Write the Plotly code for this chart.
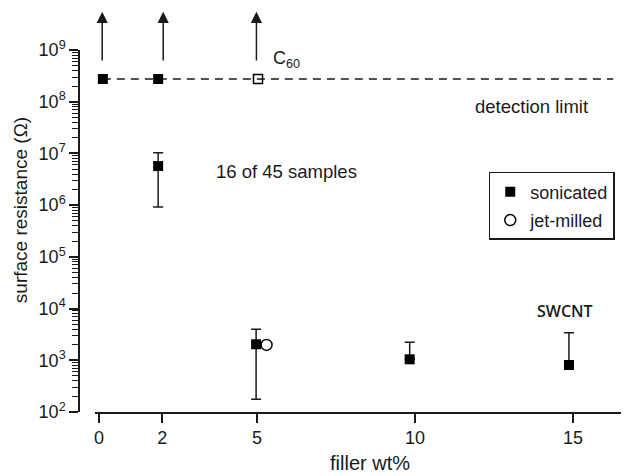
import math
import plotly.graph_objects as go

# ---- data ----
detect_limit = 2.75e8

# sonicated samples at detection limit (above range, arrows)
son_lim_x = [0.12, 1.87]
son_lim_y = [detect_limit, detect_limit]

# sonicated samples with measured resistance
son_x = [1.87, 4.97, 9.83, 14.87]
son_y = [5.7e6, 2.04e3, 1.045e3, 8.1e2]
son_hi = [1.03e7, 3.97e3, 2.23e3, 3.41e3]
son_lo = [9.2e5, 1.76e2, 1.045e3, 8.1e2]

# jet-milled
jet_x = [5.3]
jet_y = [1.98e3]

# C60
c60_x = [5.03]
c60_y = [detect_limit]

arrow_x = [0.10, 2.03, 4.98]

x_ticks = [0, 2, 5, 10, 15]
y_exps = [2, 3, 4, 5, 6, 7, 8, 9]
minor_vals = [m * 10 ** e for e in range(2, 9) for m in range(2, 10)]

FONT = "Liberation Sans, Arial, sans-serif"
INK = "#1a1a1a"

fig = go.Figure()

# detection limit dashed line
fig.add_trace(go.Scatter(
    x=[0.12, 16.27], y=[detect_limit, detect_limit], mode="lines",
    line=dict(color=INK, width=1.5, dash="8px,6px"), showlegend=False,
    hoverinfo="skip"))

# sonicated with error bars
fig.add_trace(go.Scatter(
    x=son_x, y=son_y, mode="markers",
    marker=dict(symbol="square", size=10, color="black"),
    error_y=dict(type="data", symmetric=False,
                 array=[h - y for h, y in zip(son_hi, son_y)],
                 arrayminus=[y - l for l, y in zip(son_lo, son_y)],
                 color=INK, thickness=1.5, width=5),
    name="sonicated", legendgroup="a", showlegend=True))

fig.add_trace(go.Scatter(
    x=son_lim_x, y=son_lim_y, mode="markers",
    marker=dict(symbol="square", size=10, color="black"),
    showlegend=False))

fig.add_trace(go.Scatter(
    x=c60_x, y=c60_y, mode="markers",
    marker=dict(symbol="square-open", size=9, color="black", line=dict(width=1.5)),
    showlegend=False))

fig.add_trace(go.Scatter(
    x=jet_x, y=jet_y, mode="markers",
    marker=dict(symbol="circle-open", size=11, color="black", line=dict(width=1.5)),
    name="jet-milled", legendgroup="b", showlegend=True))

tail = math.log10(detect_limit) + 0.33
tip = 9.74
annotations = []
for ax_ in arrow_x:
    annotations.append(dict(
        x=ax_, y=tip, ax=ax_, ay=tail, xref="x", yref="y", axref="x", ayref="y",
        text="", showarrow=True, arrowhead=2, arrowsize=1.5, arrowwidth=1.5,
        arrowcolor=INK))

annotations += [
    dict(x=5.45, y=8.82, xref="x", yref="y", text="C<sub>60</sub>", showarrow=False,
         xanchor="left", yanchor="middle", font=dict(family=FONT, size=18, color=INK)),
    dict(x=13.69, y=7.898, xref="x", yref="y", text="detection limit", showarrow=False,
         xanchor="center", yanchor="middle", font=dict(family=FONT, size=18.5, color=INK)),
    dict(x=5.94, y=6.66, xref="x", yref="y", text="16 of 45 samples", showarrow=False,
         xanchor="center", yanchor="middle", font=dict(family=FONT, size=18.5, color=INK)),
    dict(x=14.75, y=3.953, xref="x", yref="y", text="SWCNT", showarrow=False,
         xanchor="center", yanchor="middle",
         font=dict(family="Open Sans, sans-serif", size=16, color=INK, weight=600)),
    dict(x=-0.107, y=0.558, xref="paper", yref="paper", text="surface resistance (Ω)",
         showarrow=False, textangle=-90, xanchor="center", yanchor="middle",
         font=dict(family=FONT, size=19, color=INK)),
    dict(x=0.529, y=-0.1768, xref="paper", yref="paper", text="filler wt%",
         showarrow=False, xanchor="center", yanchor="bottom",
         font=dict(family=FONT, size=20, color=INK)),
]

# page body has an 8px margin, so the figure is 8px smaller and margins compensate
fig.update_layout(
    width=621, height=468,
    margin=dict(l=71, r=0, t=42, b=64),
    paper_bgcolor="white", plot_bgcolor="white",
    showlegend=True,
    legend=dict(x=0.745, y=0.663, xanchor="left", yanchor="top",
                bordercolor=INK, borderwidth=1.5, bgcolor="white",
                font=dict(family=FONT, size=18, color=INK),
                traceorder="grouped", tracegroupgap=2),
    annotations=annotations,
    xaxis=dict(domain=[0.029, 1], range=[-0.13, 16.77], showgrid=False, zeroline=False,
               showline=True, linecolor=INK, linewidth=1.5,
               ticks="outside", ticklen=9, tickwidth=1.5, tickcolor=INK,
               tickvals=x_ticks, ticktext=[str(v) for v in x_ticks],
               tickfont=dict(family=FONT, size=18, color=INK)),
    yaxis=dict(type="log", range=[2, 9], anchor="free", position=0,
               showgrid=False, zeroline=False,
               showline=True, linecolor=INK, linewidth=1.5,
               ticks="outside", ticklen=9, tickwidth=1.5, tickcolor=INK,
               tickvals=[10 ** e for e in y_exps],
               ticktext=["10<sup>%d</sup>" % e for e in y_exps],
               tickfont=dict(family=FONT, size=18, color=INK),
               minor=dict(ticks="outside", ticklen=6, tickwidth=1, tickcolor=INK,
                          tickmode="array", tickvals=minor_vals, showgrid=False)),
)

fig.write_html("out.html")
